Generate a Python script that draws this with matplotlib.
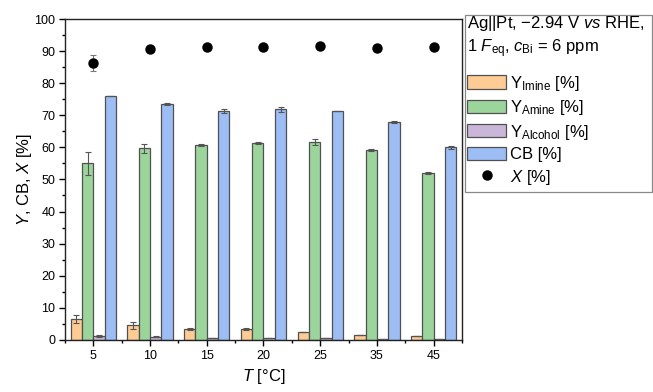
import matplotlib
matplotlib.use("Agg")
import matplotlib.pyplot as plt
import numpy as np
from matplotlib.ticker import MultipleLocator
from matplotlib.patches import Rectangle

plt.rcParams['font.family'] = ['Liberation Sans', 'DejaVu Sans']
plt.rcParams['mathtext.fontset'] = 'custom'
plt.rcParams['mathtext.rm'] = 'Liberation Sans'
plt.rcParams['mathtext.it'] = 'Liberation Sans:italic'
plt.rcParams['mathtext.bf'] = 'Liberation Sans:bold'

temps = ['5', '10', '15', '20', '25', '35', '45']
y_imine = [6.5, 4.5, 3.3, 3.3, 2.6, 1.6, 1.3]
y_imine_err = [1.2, 1.1, 0.3, 0.3, 0.0, 0.0, 0.0]
y_amine = [55.0, 59.7, 60.7, 61.3, 61.6, 59.2, 52.0]
y_amine_err = [3.5, 1.4, 0.3, 0.3, 1.0, 0.4, 0.4]
y_alcohol = [1.2, 1.0, 0.5, 0.5, 0.5, 0.4, 0.4]
y_alcohol_err = [0.4, 0.1, 0.0, 0.0, 0.0, 0.0, 0.0]
cb = [76.0, 73.5, 71.3, 71.9, 71.4, 67.9, 60.0]
cb_err = [0.0, 0.2, 0.5, 0.8, 0.0, 0.3, 0.4]
conv = [86.4, 90.5, 91.4, 91.4, 91.6, 91.0, 91.4]
conv_err = [2.5, 0.0, 0.0, 0.0, 0.0, 0.0, 0.0]

fig = plt.figure(figsize=(6.53, 3.92), dpi=100)
ax = fig.add_axes([0.0995, 0.133, 0.608, 0.8185])

x = np.arange(len(temps))
w = 0.2
series = [
    (y_imine, y_imine_err, '#FDCB94', r'$\mathrm{Y}_{\mathrm{Imine}}$ [%]'),
    (y_amine, y_amine_err, '#9BD59C', r'$\mathrm{Y}_{\mathrm{Amine}}$ [%]'),
    (y_alcohol, y_alcohol_err, '#C9B6D9', r'$\mathrm{Y}_{\mathrm{Alcohol}}$ [%]'),
    (cb, cb_err, '#9DBDF5', 'CB [%]'),
]
offsets = [-0.3, -0.1, 0.1, 0.3]
handles = []
for (vals, errs, col, lab), off in zip(series, offsets):
    b = ax.bar(x + off, vals, w, color=col, edgecolor='#505050', linewidth=0.9,
               label=lab, zorder=2)
    ax.errorbar(x + off, vals, yerr=errs, fmt='none', ecolor='#555555',
                elinewidth=0.8, capsize=2.5, capthick=0.8, zorder=3)
    handles.append(b)

ax.errorbar(x, conv, yerr=conv_err, fmt='none', ecolor='#777777',
            elinewidth=0.8, capsize=2.5, capthick=0.8, zorder=3)
dots, = ax.plot(x, conv, 'o', color='black', markersize=6.5, linestyle='none',
                label=r'$X$ [%]', zorder=4)
handles.append(dots)

ax.set_xlim(-0.5, 6.5)
ax.set_ylim(0, 100)
ax.set_xticks(x)
ax.set_xticklabels(temps)
ax.xaxis.set_minor_locator(MultipleLocator(0.5))
ax.yaxis.set_major_locator(MultipleLocator(10))
ax.yaxis.set_minor_locator(MultipleLocator(5))
ax.tick_params(axis='both', which='major', direction='out', length=4, width=1,
               labelsize=9, top=False, right=False, pad=3)
ax.tick_params(axis='both', which='minor', direction='out', length=2.5, width=1,
               top=False, right=False)
for s in ax.spines.values():
    s.set_linewidth(1.0)
    s.set_color('#222222')

ax.set_ylabel(r'$Y$, CB, $X$ [%]', fontsize=12, labelpad=0)
ax.set_xlabel(r'$T$ [°C]', fontsize=12, labelpad=4)

leg = fig.legend(handles=handles,
                 title='Ag||Pt, \u22122.94 V $vs$ RHE,\n1 $F_{\\mathrm{eq}}$, $c_{\\mathrm{Bi}}$ = 6 ppm',
                 loc='upper left', bbox_to_anchor=(0.7105, 0.973),
                 fontsize=12, title_fontsize=12, frameon=False,
                 handlelength=2.35, handleheight=0.85,
                 handletextpad=0.2, labelspacing=0.32, borderpad=0.2,
                 borderaxespad=0)
leg._legend_box.align = 'left'
leg._legend_box.sep = 10
leg.get_title().set_linespacing(1.3)

frame = Rectangle((465 / 653, 1 - 192 / 392), 187 / 653, 177 / 392,
                  transform=fig.transFigure, fill=False, edgecolor='#888888',
                  linewidth=0.9)
fig.add_artist(frame)

fig.savefig('out.png', dpi=100)
